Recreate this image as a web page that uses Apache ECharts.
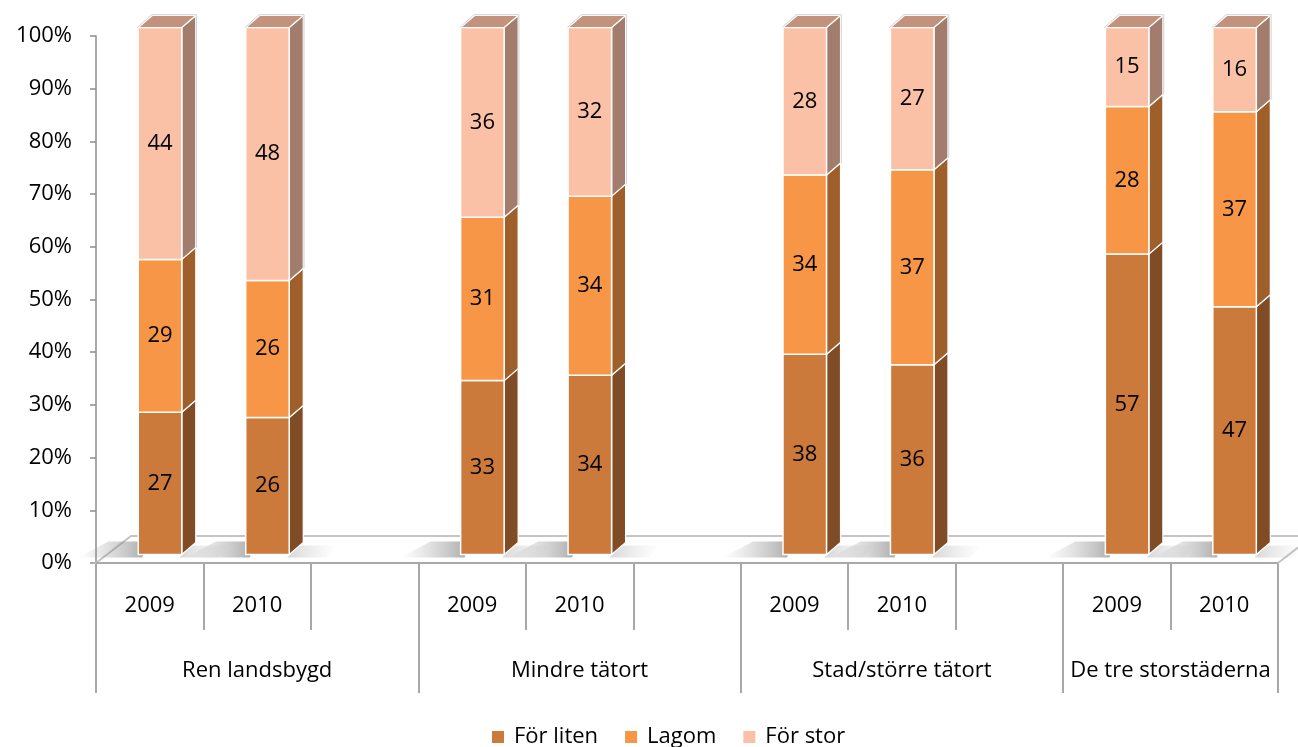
<!DOCTYPE html>
<html>
<head>
<meta charset="utf-8">
<script src="https://cdn.jsdelivr.net/npm/echarts@6/dist/echarts.min.js"></script>
<style>
html,body{margin:0;padding:0;background:#fff;}
#chart{width:1298px;height:747px;}
</style>
</head>
<body>
<div id="chart"></div>
<script>
// ---- data ----
const years = ['2009', '2010', '', '2009', '2010', '', '2009', '2010', '', '2009', '2010'];
const groups = ['Ren landsbygd', 'Mindre tätort', 'Stad/större tätort', 'De tre storstäderna'];
const groupSizes = [3, 3, 3, 2];
const seriesNames = ['För liten', 'Lagom', 'För stor'];
const forLiten = [27, 26, null, 33, 34, null, 38, 36, null, 57, 47];
const lagom    = [29, 26, null, 31, 34, null, 34, 37, null, 28, 37];
const forStor  = [44, 48, null, 36, 32, null, 28, 27, null, 15, 16];
const yTicks = [0, 10, 20, 30, 40, 50, 60, 70, 80, 90, 100];

// ---- styles ----
const FONT = 'Open Sans';
const faceColors = ['#CB7A3B', '#F69646', '#FAC1A6'];
const sideColors = ['#804C25', '#9F5F2B', '#A27C6C'];
const topColors  = ['#A8652F', '#C87838', '#C2927C'];
const DX = 14, DY = 12, LIFT = 8.5, XSHIFT = 10.3, BAR_FRAC = 0.405;

const values = [forLiten, lagom, forStor];
const lastIndex = years.length - 1;

// group boundaries & centers on slot scale
const groupBounds = [0];
groupSizes.forEach(s => groupBounds.push(groupBounds[groupBounds.length - 1] + s));
const groupCenters = groupSizes.map((s, i) => groupBounds[i] + s / 2);

function segData(k) {
  const out = [];
  years.forEach((y, i) => {
    const v = values[k][i];
    if (v == null) return;
    let start = 0;
    for (let j = 0; j < k; j++) start += values[j][i] || 0;
    const isTop = k === values.length - 1;
    out.push([i, start, start + v, v, isTop ? 1 : 0]);
  });
  return out;
}

function makeRender(k) {
  return function (params, api) {
    const idx = api.value(0);
    const start = api.value(1), end = api.value(2), v = api.value(3), isTop = api.value(4);
    const band = api.size([1, 0])[0];
    const w = band * BAR_FRAC;
    const cx = api.coord([idx, 0])[0] + XSHIFT;
    const y0 = api.coord([idx, start])[1] - LIFT;
    const y1 = api.coord([idx, end])[1] - LIFT;
    const xl = cx - w / 2, xr = cx + w / 2;
    const children = [
      { type: 'polygon', shape: { points: [[xr, y0], [xr + DX, y0 - DY], [xr + DX, y1 - DY], [xr, y1]] },
        style: { fill: sideColors[k], stroke: '#ffffff', lineWidth: 1.2 } },
      { type: 'rect', shape: { x: xl, y: y1, width: w, height: y0 - y1 },
        style: { fill: faceColors[k], stroke: '#ffffff', lineWidth: 1.5 } }
    ];
    if (isTop) {
      children.push({ type: 'polygon', shape: { points: [[xl, y1], [xl + DX, y1 - DY], [xr + DX, y1 - DY], [xr, y1]] },
        style: { fill: topColors[k], stroke: '#ffffff', lineWidth: 1.2 } });
      children.push({ type: 'polyline', shape: { points: [[xl - 0.8, y1], [xl + DX - 0.8, y1 - DY - 0.8], [xr + DX + 0.8, y1 - DY - 0.8], [xr + DX + 0.8, y0 - DY]] },
        style: { fill: null, stroke: '#d2d2d2', lineWidth: 1 } });
    }
    children.push({ type: 'text', style: { text: String(v), x: cx, y: (y0 + y1) / 2, align: 'center', verticalAlign: 'middle',
      font: '22px "' + FONT + '"', fill: '#000' } });
    return { type: 'group', children };
  };
}

function renderFloor(params, api) {
  const idx = api.value(0);
  const band = api.size([1, 0])[0];
  const children = [];
  const yF = api.coord([0, 0])[1];
  if (idx === 0) {
    const left = api.coord([0, 0])[0] - band / 2;
    const right = api.coord([lastIndex, 0])[0] + band / 2;
    const fx = 35, fy = 27;
    children.push({ type: 'polygon', shape: { points: [[left, yF], [right, yF], [right + fx, yF - fy], [left + fx, yF - fy]] },
      style: { fill: '#ffffff', stroke: '#c4c4c4', lineWidth: 2 } });
    children.push({ type: 'line', shape: { x1: left, y1: yF, x2: right, y2: yF }, style: { stroke: '#a9a9a9', lineWidth: 2 } });
  }
  if (api.value(1)) {
    const w = band * BAR_FRAC;
    const cx = api.coord([idx, 0])[0] + XSHIFT;
    const xl = cx - w / 2, xr = cx + w / 2;
    const yb = yF - LIFT;
    // soft shadow to the left of the bar
    children.push({ type: 'polygon', shape: { points: [[xl - 60, yb + 3], [xl + 4, yb + 3], [xl + 10, yb - 13], [xl - 30, yb - 13]] },
      style: { fill: { type: 'linear', x: 0, y: 0, x2: 1, y2: 0, colorStops: [
        { offset: 0, color: 'rgba(150,150,150,0)' },
        { offset: 0.75, color: 'rgba(120,120,120,0.45)' },
        { offset: 1, color: 'rgba(100,100,100,0.6)' }] } } });
    // lighter shadow to the right
    children.push({ type: 'polygon', shape: { points: [[xr - 2, yb + 3], [xr + 36, yb + 3], [xr + 48, yb - 9], [xr + 8, yb - 9]] },
      style: { fill: { type: 'linear', x: 0, y: 0, x2: 1, y2: 0, colorStops: [
        { offset: 0, color: 'rgba(140,140,140,0.35)' },
        { offset: 1, color: 'rgba(180,180,180,0)' }] } } });
  }
  return { type: 'group', children };
}

const floorData = years.map((y, i) => [i, forLiten[i] != null ? 1 : 0]);

const chart = echarts.init(document.getElementById('chart'), null, { renderer: 'canvas' });
const option = {
  animation: false,
  backgroundColor: '#ffffff',
  textStyle: { fontFamily: FONT },
  grid: { left: 96, right: 20, top: 36, bottom: 184 },
  legend: {
    data: seriesNames, top: 721, left: 487, icon: 'rect', itemWidth: 12, itemHeight: 12, itemGap: 27,
    textStyle: { fontSize: 22, color: '#000', fontFamily: FONT, padding: [0, 0, 0, 5] }
  },
  xAxis: [
    {
      type: 'category', data: years, boundaryGap: true,
      axisLine: { show: true, lineStyle: { color: '#a9a9a9', width: 2 } },
      axisTick: { show: true, interval: 0, length: 67, lineStyle: { color: '#8c8c8c', width: 1.5 } },
      axisLabel: { interval: 0, margin: 32, fontSize: 22, color: '#000', fontFamily: FONT },
      splitLine: { show: false }
    },
    {
      type: 'value', min: 0, max: years.length, position: 'bottom',
      axisLine: { show: false },
      axisTick: { show: true, customValues: groupBounds, length: 130, lineStyle: { color: '#8c8c8c', width: 1.5 } },
      axisLabel: { customValues: groupCenters, margin: 97, fontSize: 22, color: '#000', fontFamily: FONT,
        formatter: function (val) { const i = groupCenters.indexOf(val); return i >= 0 ? groups[i] : ''; } },
      splitLine: { show: false }
    }
  ],
  yAxis: {
    type: 'value', min: yTicks[0], max: yTicks[yTicks.length - 1], interval: yTicks[1] - yTicks[0],
    axisLine: { show: true, lineStyle: { color: '#8c8c8c', width: 1.5 } },
    axisTick: { show: true, length: 6, lineStyle: { color: '#8c8c8c', width: 1.5 } },
    axisLabel: { formatter: '{value}%', fontSize: 22, color: '#000', margin: 24, fontFamily: FONT },
    splitLine: { show: false }
  },
  series: [
    { type: 'custom', name: 'floor', xAxisIndex: 0, renderItem: renderFloor, data: floorData, clip: false, silent: true, z: 1 },
  ].concat(seriesNames.map((name, k) => ({
    type: 'custom', name: name, xAxisIndex: 0, renderItem: makeRender(k), data: segData(k), clip: false, z: 2 + k,
    itemStyle: { color: faceColors[k] }
  })))
};
chart.setOption(option);
</script>
</body>
</html>
